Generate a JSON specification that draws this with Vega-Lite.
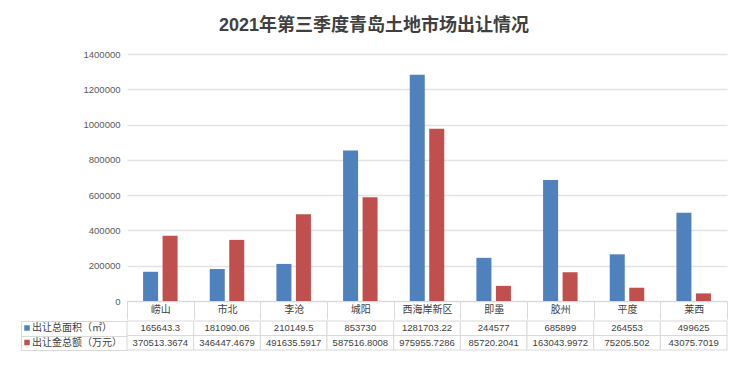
{
  "$schema": "https://vega.github.io/schema/vega-lite/v6.json",
  "padding": {"left": 20, "top": 17, "right": 5, "bottom": 5},
  "background": "white",
  "title": {"text": "2021年第三季度青岛土地市场出让情况", "fontSize": 18, "fontWeight": "bold", "color": "#404040", "anchor": "middle", "offset": 14},
  "config": {"font": "Liberation Sans, Noto Sans CJK SC", "view": {"stroke": null}},
  "data": {"values": [
    {"region": "崂山", "series": "出让总面积（㎡）", "value": 165643.3},
    {"region": "市北", "series": "出让总面积（㎡）", "value": 181090.06},
    {"region": "李沧", "series": "出让总面积（㎡）", "value": 210149.5},
    {"region": "城阳", "series": "出让总面积（㎡）", "value": 853730},
    {"region": "西海岸新区", "series": "出让总面积（㎡）", "value": 1281703.22},
    {"region": "即墨", "series": "出让总面积（㎡）", "value": 244577},
    {"region": "胶州", "series": "出让总面积（㎡）", "value": 685899},
    {"region": "平度", "series": "出让总面积（㎡）", "value": 264553},
    {"region": "莱西", "series": "出让总面积（㎡）", "value": 499625},
    {"region": "崂山", "series": "出让金总额（万元）", "value": 370513.3674},
    {"region": "市北", "series": "出让金总额（万元）", "value": 346447.4679},
    {"region": "李沧", "series": "出让金总额（万元）", "value": 491635.5917},
    {"region": "城阳", "series": "出让金总额（万元）", "value": 587516.8008},
    {"region": "西海岸新区", "series": "出让金总额（万元）", "value": 975955.7286},
    {"region": "即墨", "series": "出让金总额（万元）", "value": 85720.2041},
    {"region": "胶州", "series": "出让金总额（万元）", "value": 163043.9972},
    {"region": "平度", "series": "出让金总额（万元）", "value": 75205.502},
    {"region": "莱西", "series": "出让金总额（万元）", "value": 43075.7019}
  ]},
  "spacing": 0,
  "resolve": {"legend": {"color": "independent"}},
  "vconcat": [
    {
      "width": 600,
      "height": 247,
      "mark": {"type": "bar"},
      "encoding": {
        "x": {"field": "region", "type": "nominal", "sort": null,
              "scale": {"paddingInner": 0, "paddingOuter": 0},
              "axis": {"title": null, "tickBand": "extent", "tickSize": 18, "tickColor": "#d9d9d9", "domainColor": "#d9d9d9", "labelAngle": 0, "labelPadding": -15, "labelFontSize": 10, "labelColor": "#404040"}},
        "xOffset": {"field": "series", "type": "nominal", "sort": null, "scale": {"paddingInner": 0.23, "paddingOuter": 0.825}},
        "y": {"field": "value", "type": "quantitative", "scale": {"domain": [0, 1400000]},
              "axis": {"title": null, "values": [0, 200000, 400000, 600000, 800000, 1000000, 1200000, 1400000], "format": "d", "grid": true, "gridColor": "#e3e3e3", "gridWidth": 1.5, "domain": false, "ticks": false, "labelPadding": 7, "labelFontSize": 9.5, "labelColor": "#595959"}},
        "color": {"field": "series", "type": "nominal", "sort": null, "scale": {"range": ["#4F81BD", "#C0504D"]}, "legend": null}
      }
    },
    {
      "width": 600,
      "height": 29,
      "encoding": {
        "x": {"field": "region", "type": "nominal", "sort": null, "scale": {"paddingInner": 0, "paddingOuter": 0}, "axis": null},
        "y": {"field": "series", "type": "nominal", "sort": null, "scale": {"paddingInner": 0, "paddingOuter": 0},
              "axis": {"title": null, "labels": false, "tickBand": "extent", "tickSize": -106, "offset": 106, "tickColor": "#d9d9d9", "domainColor": "#d9d9d9", "grid": false}}
      },
      "layer": [
        {"mark": {"type": "rect", "fill": "white", "stroke": "#d9d9d9", "strokeWidth": 1}},
        {"mark": {"type": "text", "fontSize": 9.5, "color": "#404040"},
         "encoding": {"text": {"field": "value", "type": "nominal"}}},
        {"mark": {"type": "square", "opacity": 0},
         "encoding": {"color": {"field": "series", "type": "nominal", "sort": null,
           "legend": {"orient": "none", "legendX": -105, "legendY": 2, "title": null, "symbolType": "square", "symbolSize": 30, "symbolOpacity": 1, "symbolStrokeWidth": 0, "labelFontSize": 10, "labelColor": "#404040", "rowPadding": 4.5, "labelOffset": 0, "padding": 0}}}}
      ]
    }
  ]
}
